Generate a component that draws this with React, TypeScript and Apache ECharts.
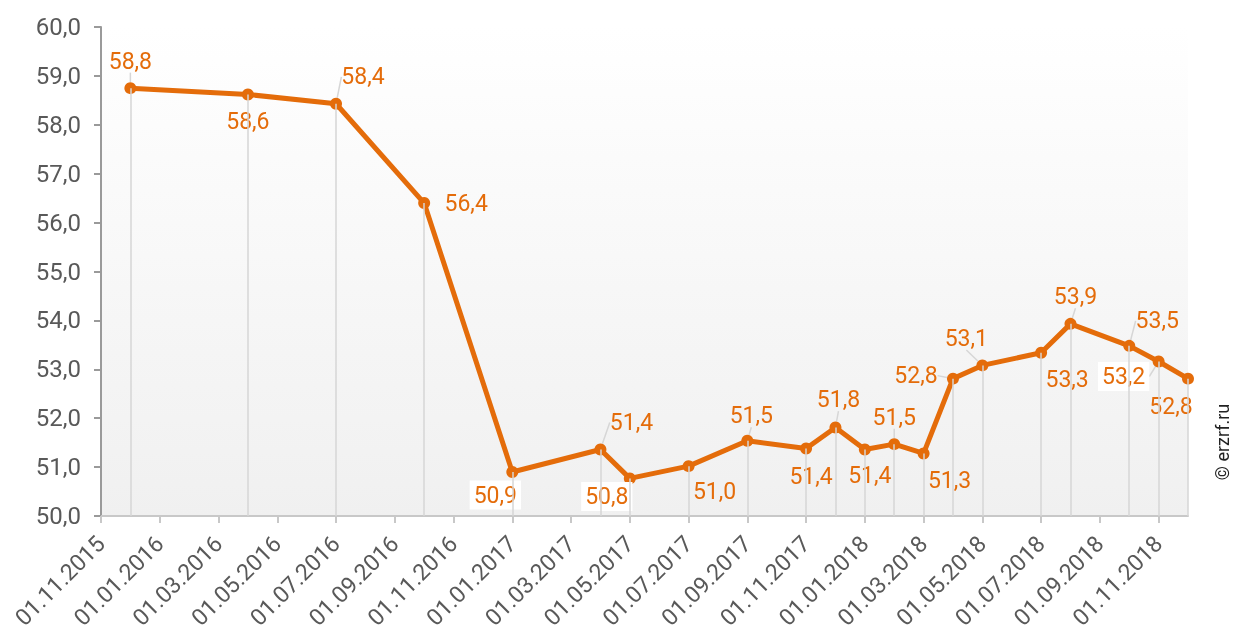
import React, { useEffect, useRef } from "react";
import * as echarts from "echarts";

const dates = [
  "01.12.2015", "01.04.2016", "01.07.2016", "01.10.2016", "01.01.2017",
  "01.04.2017", "01.05.2017", "01.07.2017", "01.09.2017", "01.11.2017",
  "01.12.2017", "01.01.2018", "01.02.2018", "01.03.2018", "01.04.2018",
  "01.05.2018", "01.07.2018", "01.08.2018", "01.10.2018", "01.11.2018",
  "01.12.2018",
];
const values = [
  58.75, 58.62, 58.43, 56.4, 50.9,
  51.36, 50.77, 51.02, 51.54, 51.38,
  51.81, 51.36, 51.47, 51.28, 52.81,
  53.08, 53.34, 53.93, 53.48, 53.16,
  52.81,
];
const tickLabels = [
  "01.11.2015", "01.01.2016", "01.03.2016", "01.05.2016", "01.07.2016",
  "01.09.2016", "01.11.2016", "01.01.2017", "01.03.2017", "01.05.2017",
  "01.07.2017", "01.09.2017", "01.11.2017", "01.01.2018", "01.03.2018",
  "01.05.2018", "01.07.2018", "01.09.2018", "01.11.2018",
];
const axisEnd = "01.12.2018";

// label placement (pixel offsets from the point), style only
const labelOffsets: [number, number][] = [
  [0, -27], [0, 27], [27, -27], [42, 0], [-17, 23],
  [31, -27], [-23, 18], [26, 25], [4, -25], [5, 28],
  [3, -28], [5, 26], [0, -27], [26, 27], [-37, -3],
  [-16, -27], [26, 27], [5, -27], [28, -25], [-35, 15],
  [-17, 28],
];
const whiteBg = [4, 6, 19];
const withLeader = [0, 2, 5, 8, 10, 12, 14, 15, 17, 18, 19];

const ORANGE = "#E46C0A";
const TEXT = "#595959";

function monthIndex(d: string): number {
  const [, m, y] = d.split(".").map(Number);
  return (y - 2015) * 12 + (m - 11);
}

export default function App() {
  const ref = useRef<HTMLDivElement>(null);
  useEffect(() => {
    if (!ref.current) return;
    const chart = echarts.init(ref.current, undefined, { renderer: "svg" });
    const tickIdx = tickLabels.map(monthIndex);
    const labelByIdx: Record<number, string> = {};
    tickLabels.forEach((t) => (labelByIdx[monthIndex(t)] = t));
    const pts = dates.map((d, i) => [monthIndex(d), values[i]]);
    const fmt = (v: number) => v.toFixed(1).replace(".", ",");

    chart.setOption({
      animation: false,
      textStyle: { fontFamily: "Roboto" },
      grid: {
        left: 101,
        right: 1235 - 1188,
        top: 27,
        bottom: 632 - 518,
        show: true,
        borderWidth: 0,
        backgroundColor: new echarts.graphic.LinearGradient(0, 0, 0, 1, [
          { offset: 0, color: "#ffffff" },
          { offset: 1, color: "#f0f0f0" },
        ]),
      },
      xAxis: {
        type: "value",
        min: 0,
        max: monthIndex(axisEnd),
        interval: 2,
        splitLine: { show: false },
        axisLine: { show: true, lineStyle: { color: "#c8c8c8", width: 2 } },
        axisTick: { show: true, length: 7, lineStyle: { color: "#c8c8c8", width: 2 }, customValues: tickIdx },
        axisLabel: {
          customValues: tickIdx,
          rotate: 45,
          margin: 24,
          color: TEXT,
          fontSize: 23,
          fontFamily: "Roboto",
          formatter: (v: number) => labelByIdx[v] || "",
        },
      },
      yAxis: {
        type: "value",
        min: 50,
        max: 60,
        interval: 1,
        splitLine: { show: false },
        axisLine: { show: true, lineStyle: { color: "#9a9a9a", width: 2 } },
        axisTick: { show: true, length: 7, inside: false, lineStyle: { color: "#9a9a9a", width: 2 } },
        axisLabel: {
          color: TEXT,
          fontSize: 24,
          margin: 20,
          fontFamily: "Roboto",
          formatter: (v: number) => fmt(v),
        },
      },
      series: [
        {
          type: "line",
          data: [],
          z: 1,
          silent: true,
          markLine: {
            silent: true,
            symbol: ["none", "none"],
            animation: false,
            label: { show: false },
            lineStyle: { color: "#d6d6d6", width: 1.5, type: "solid" },
            data: pts.map((p) => [
              { coord: [p[0], p[1]] },
              { coord: [p[0], 50] },
            ]),
          },
        },
        {
          type: "line",
          z: 3,
          data: pts.map((p, i) => ({
            value: p,
            label: whiteBg.includes(i)
              ? { backgroundColor: "#ffffff", padding: [3, 4] }
              : undefined,
            labelLine: { show: withLeader.includes(i) },
          })),
          symbol: "circle",
          symbolSize: 12,
          itemStyle: { color: ORANGE },
          lineStyle: { color: ORANGE, width: 5 },
          label: {
            show: true,
            position: "inside",
            align: "center",
            verticalAlign: "middle",
            color: ORANGE,
            fontSize: 23,
            fontFamily: "Roboto",
            formatter: (p: any) => fmt(p.value[1]),
          },
          labelLine: { show: false, lineStyle: { color: "#d6d6d6", width: 1.5 } },
          labelLayout: (params: any) => {
            const o = labelOffsets[params.dataIndex];
            return { dx: o[0], dy: o[1] };
          },
        },
      ],
      graphic: [
        {
          type: "text",
          x: 1222,
          y: 442,
          rotation: Math.PI / 2,
          style: {
            text: "© erzrf.ru",
            fill: "#222222",
            fontSize: 18,
            fontFamily: "Roboto",
            align: "center",
            verticalAlign: "middle",
          },
        },
      ],
    });
    return () => chart.dispose();
  }, []);
  return (
    <div
      ref={ref}
      style={{ position: "fixed", left: 0, top: 0, width: 1235, height: 632 }}
    />
  );
}
